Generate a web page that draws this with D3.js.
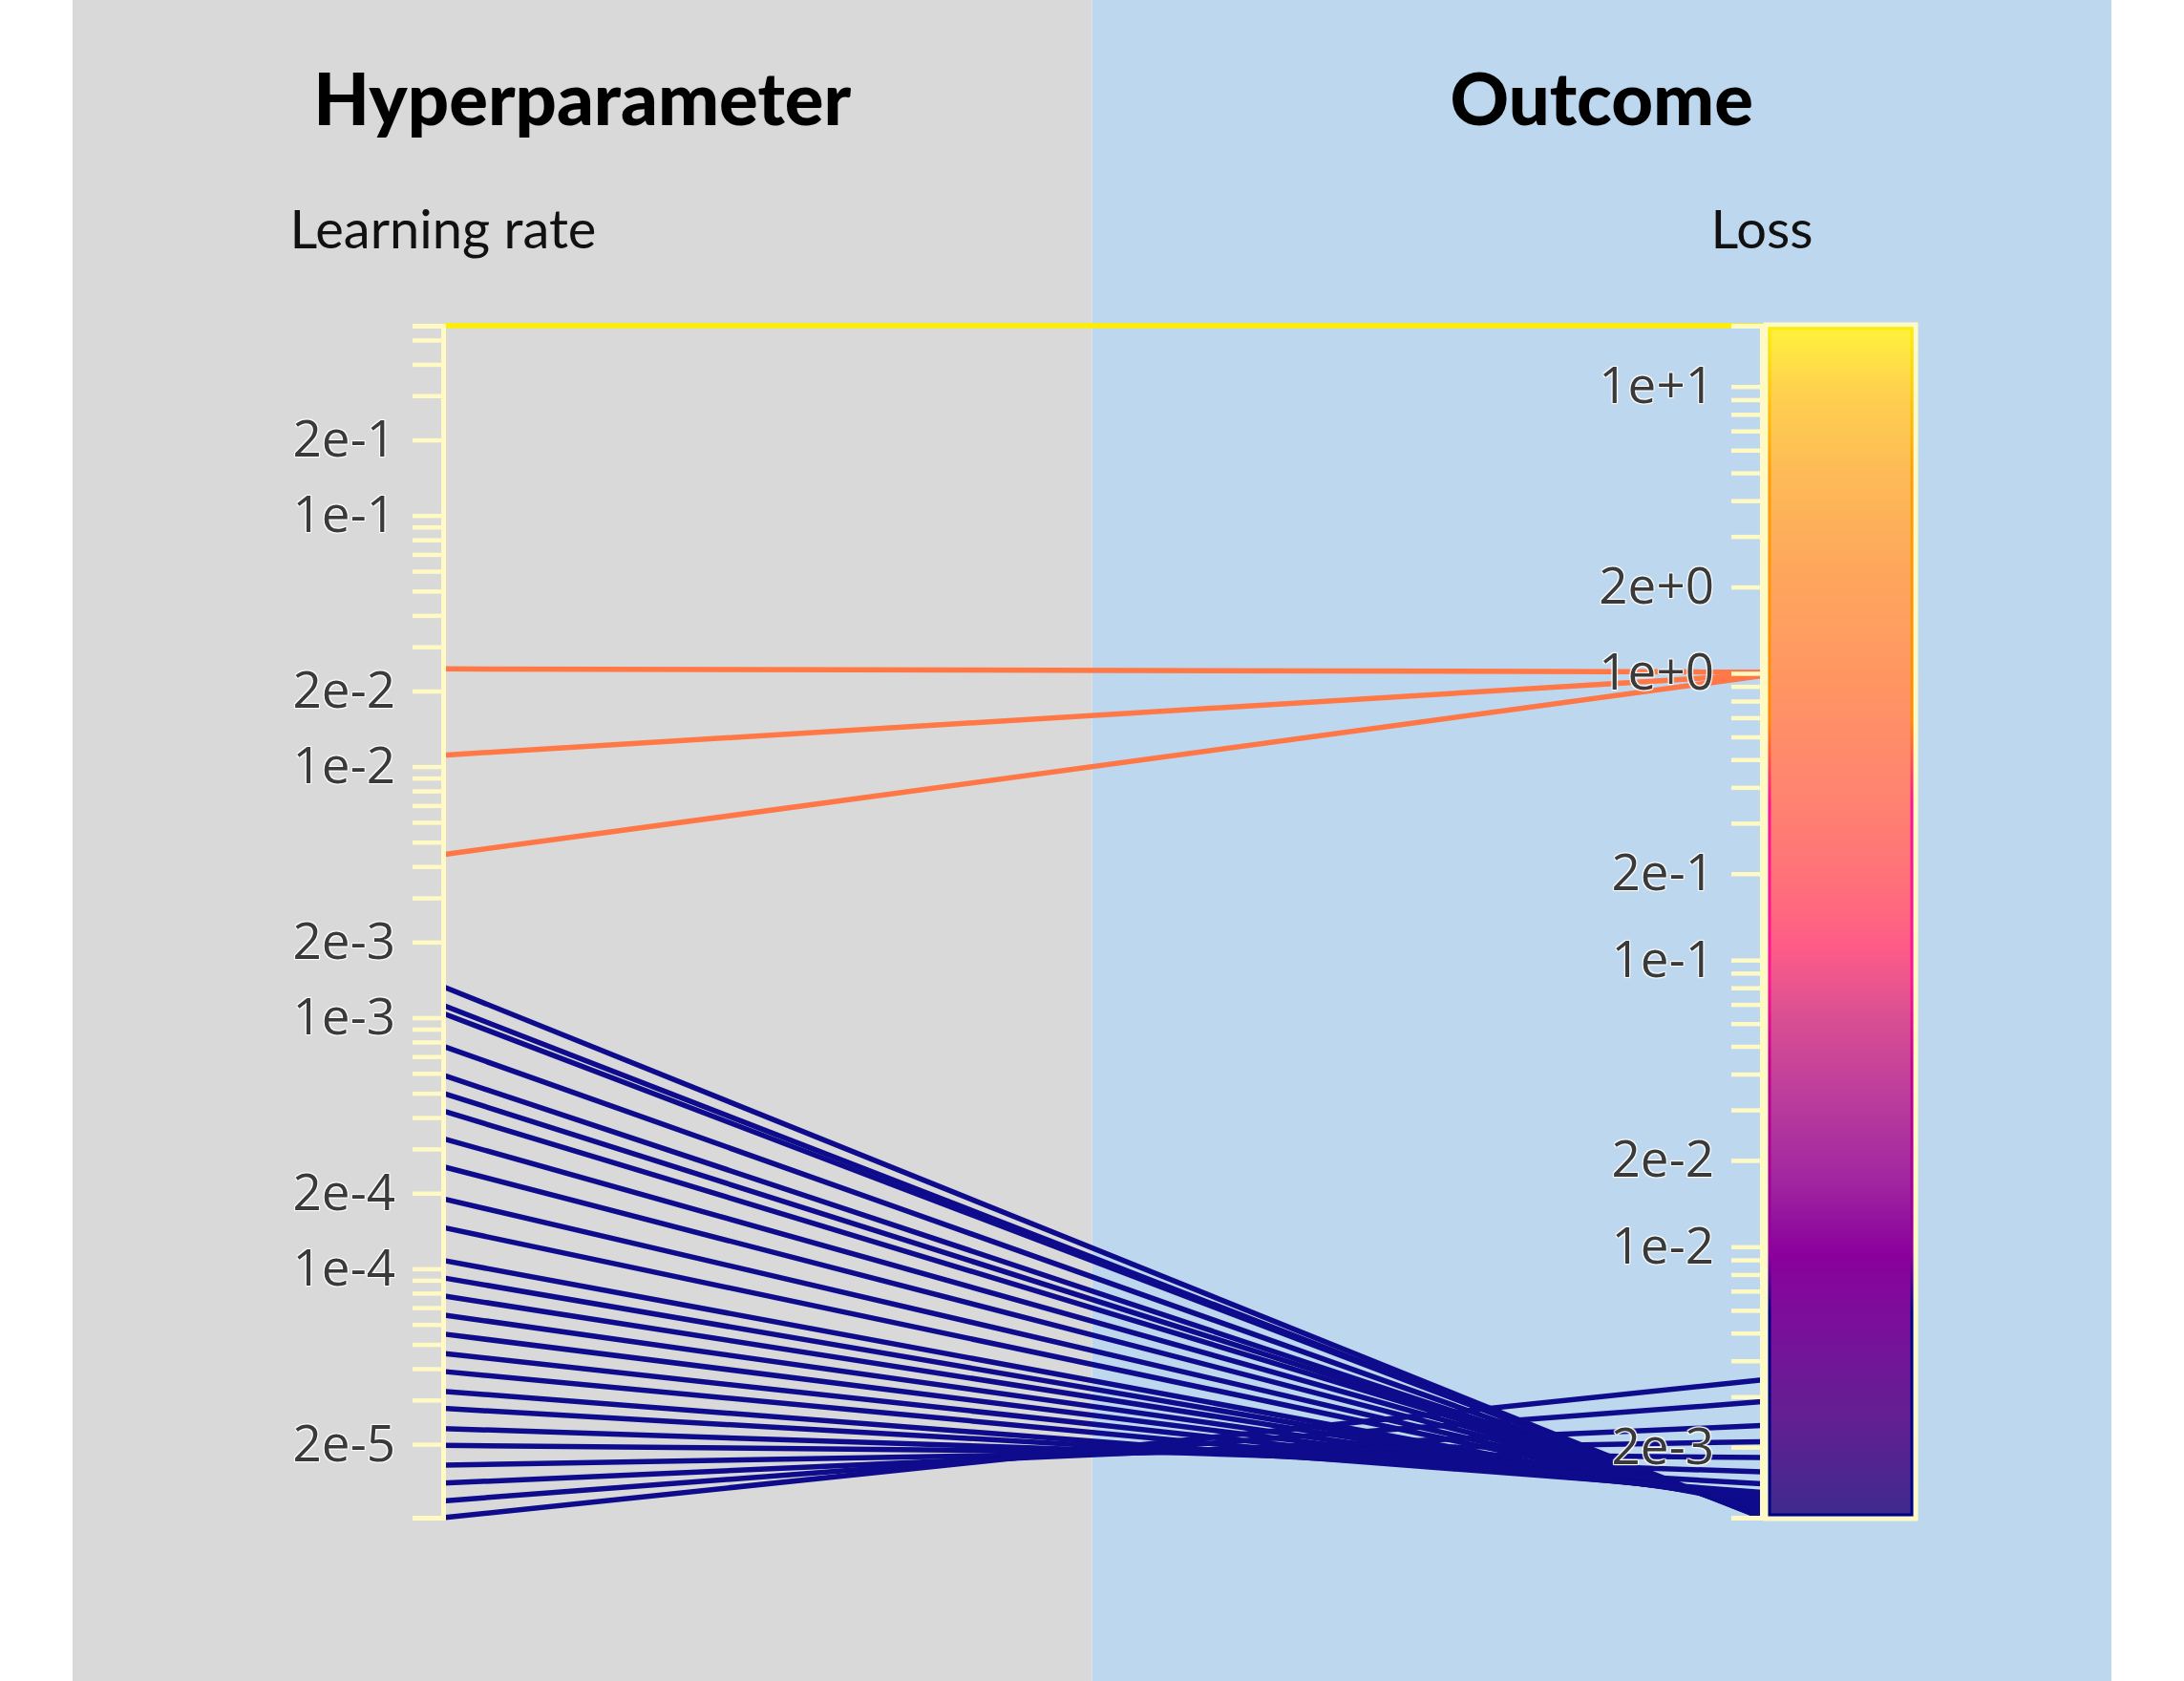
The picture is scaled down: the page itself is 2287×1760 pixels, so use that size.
<!DOCTYPE html>
<html>
<head>
<meta charset="utf-8">
<script src="https://cdn.jsdelivr.net/npm/d3@7"></script>
<style>
  html, body { margin: 0; padding: 0; background: #fff; }
  .tick text { text-shadow: 1px 1px 1px #fff, -1px -1px 1px #fff, 1px -1px 1px #fff, -1px 1px 1px #fff; }
</style>
</head>
<body>
<svg id="chart" width="2287" height="1760"></svg>
<script>
// trials: first the yellow one, then three orange, then the blue ones
var learningRate = [
    0.57,
    0.0245, 0.0111, 0.00446,
    1.33e-3, 1.12e-3, 1.04e-3, 7.7e-4, 5.9e-4, 5.0e-4, 4.25e-4, 3.3e-4, 2.55e-4,
    1.9e-4, 1.46e-4, 1.08e-4, 9.2e-5, 7.8e-5, 6.55e-5, 5.5e-5, 4.6e-5, 3.9e-5,
    3.25e-5, 2.78e-5, 2.31e-5, 1.98e-5, 1.65e-5, 1.40e-5, 1.19e-5, 1.02e-5
]
var loss = [
    16.3,
    1.01, 0.99, 0.98,
    1.135e-3, 1.14e-3, 1.15e-3, 1.16e-3, 1.17e-3, 1.185e-3, 1.195e-3, 1.21e-3, 1.22e-3,
    1.235e-3, 1.25e-3, 1.26e-3, 1.275e-3, 1.29e-3, 1.30e-3, 1.32e-3, 1.34e-3, 1.36e-3,
    1.39e-3, 1.49e-3, 1.64e-3, 1.84e-3, 2.09e-3, 2.38e-3, 2.88e-3, 3.43e-3
]
var groups = ['Hyperparameter', 'Outcome']
var dimensions = ['Learning rate', 'Loss']

// colour ramp along the loss axis (0 = top, 1 = bottom)
var lineStops = [0, 0.2916, 0.5, 0.78, 0.86, 1]
var lineColors = ['#ffee00', '#ff7845', '#ff1493', '#8b0099', '#0e0c8c', '#0e0c8c']
var barStops = [0, 0.05, 0.12, 0.2, 0.3, 0.4, 0.47, 0.52, 0.58, 0.65, 0.72, 0.78, 0.84, 0.92, 1]
var barColors = ['#fff23c', '#ffd24e', '#fdbb56', '#fea75c', '#ff9563', '#ff8270', '#ff6f7a',
    '#ff5c88', '#da4f93', '#bb3c9c', '#a026a0', '#8a009c', '#7a109a', '#622092', '#3e2a8c']
var edgeStops = [0, 0.12, 0.33, 0.4, 0.55, 0.62, 0.78, 0.83, 1]
var edgeColors = ['#ffee00', '#ffa000', '#ff8c00', '#ff1493', '#ff1493', '#c8008c', '#900099', '#000080', '#000080']

var svg = d3.select('#chart'),
    width = +svg.attr('width'),
    height = +svg.attr('height'),
    yTop = 341, yBottom = 1589,
    axisColor = '#fff9c4'

var trials = learningRate.map((lr, i) => ({lr: lr, loss: loss[i]}))

var x = d3.scalePoint().domain(dimensions).range([464, 1845])
var yLr = d3.scaleLog().domain(d3.extent(learningRate)).range([yBottom, yTop])
var yLoss = d3.scaleLog().domain(d3.extent(loss)).range([yBottom, yTop])
var pos = d3.scaleLinear().domain([yTop, yBottom]).range([0, 1])
var color = d3.scaleLinear().domain(lineStops).range(lineColors)

// panels
var panel = d3.scaleBand().domain(groups).range([76, 2211])
var panelFill = {'Hyperparameter': '#d9d9d9', 'Outcome': '#bdd7ee'}
svg.selectAll('rect.panel').data(groups).enter().append('rect')
    .attr('x', d => panel(d)).attr('y', 0)
    .attr('width', panel.bandwidth()).attr('height', height)
    .attr('fill', d => panelFill[d])

svg.selectAll('text.group').data(groups).enter().append('text')
    .attr('x', d => panel(d) + panel.bandwidth() / 2).attr('y', 131)
    .attr('text-anchor', 'middle')
    .style('font-family', 'Lato, sans-serif').style('font-weight', '900')
    .style('font-size', '76px').attr('fill', '#000')
    .text(d => d)

// colour bar next to the loss axis
var defs = svg.append('defs')
function gradient(id, stops, colors){
    var g = defs.append('linearGradient').attr('id', id)
        .attr('x1', 0).attr('y1', 0).attr('x2', 0).attr('y2', 1)
    stops.forEach((s, i) => g.append('stop').attr('offset', s).attr('stop-color', colors[i]))
}
gradient('barFill', barStops, barColors)
gradient('barEdge', edgeStops, edgeColors)

var bx = x('Loss') + 4
svg.append('rect').attr('x', bx).attr('y', yTop - 1).attr('width', 157).attr('height', yBottom - yTop + 2)
    .attr('fill', 'none').attr('stroke', axisColor).attr('stroke-width', 5)
svg.append('rect').attr('x', bx + 4).attr('y', yTop + 3).attr('width', 149).attr('height', yBottom - yTop - 6)
    .attr('fill', 'url(#barFill)').attr('stroke', 'url(#barEdge)').attr('stroke-width', 3)

// polylines
var line = d3.line()
svg.append('g').selectAll('path').data(trials).enter().append('path')
    .attr('d', d => line([[x('Learning rate'), yLr(d.lr)], [x('Loss'), yLoss(d.loss)]]))
    .attr('fill', 'none')
    .attr('stroke', d => color(pos(yLoss(d.loss))))
    .attr('stroke-width', 5.5)

// axes
function fmt(d){
    var e = Math.floor(Math.log10(d) + 1e-9)
    var m = Math.round(d / Math.pow(10, e))
    if (m !== 1 && m !== 2) return ''
    return m + 'e' + (e >= 0 ? '+' : '-') + Math.abs(e)
}
var scales = {'Learning rate': yLr, 'Loss': yLoss}
dimensions.forEach(dim => {
    var g = svg.append('g').attr('transform', 'translate(' + x(dim) + ',0)')
        .call(d3.axisLeft(scales[dim]).tickFormat(fmt).tickSize(32).tickSizeOuter(32).tickPadding(18))
    g.select('.domain').attr('stroke', axisColor).attr('stroke-width', 5)
    g.selectAll('.tick line').attr('stroke', axisColor).attr('stroke-width', 4.5)
    g.selectAll('.tick text').attr('fill', '#3a3a3a')
        .style('font-family', '"Open Sans", sans-serif').style('font-size', '53px')
    g.append('text').attr('x', 0).attr('y', 260).attr('text-anchor', 'middle')
        .attr('fill', '#111').style('font-family', 'Lato, sans-serif').style('font-size', '56px')
        .text(dim)
})
</script>
</body>
</html>
